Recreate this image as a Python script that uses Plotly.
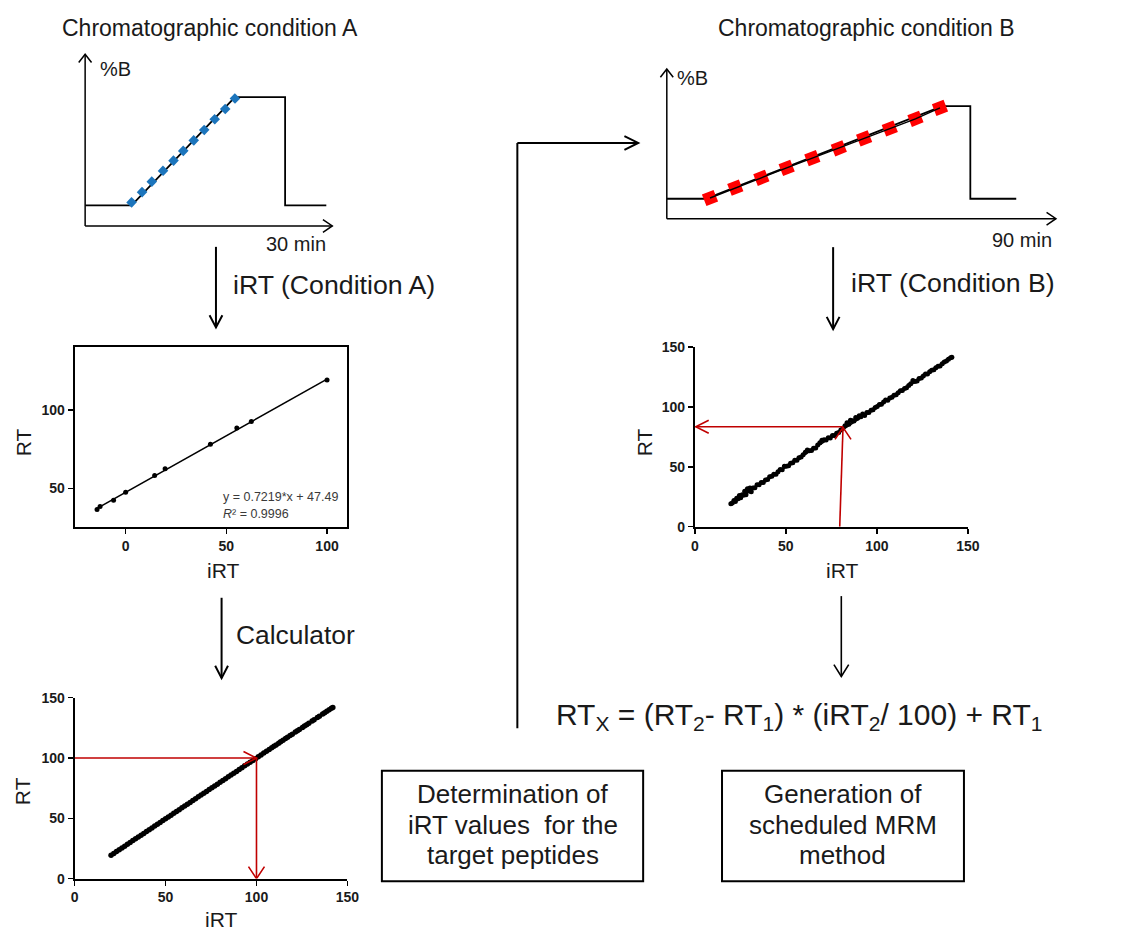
import plotly.graph_objects as go

W, H = 1133, 939
FONT = "Liberation Sans, Arial, sans-serif"

# ---- gradient programs (time in min, %B) ----
grad_a_time = [0, 6.2, 20.0, 26.7, 26.7, 32.2]
grad_a_pctb = [12.0, 12.0, 75.0, 75.0, 12.0, 12.0]
irt_a_time = [6.2, 7.6, 8.9, 10.4, 11.8, 13.1, 14.5, 15.9, 17.3, 18.7, 20.0]
irt_a_pctb = [13.7, 19.7, 25.8, 32.1, 38.0, 43.7, 49.8, 55.9, 62.1, 68.1, 74.2]

grad_b_time = [0, 10.0, 70.8, 78.0, 78.0, 89.8]
grad_b_pctb = [13.3, 13.3, 75.2, 75.2, 13.3, 13.3]
irt_b_time = [11.1, 17.6, 24.3, 30.8, 37.4, 44.2, 50.7, 57.3, 63.9, 70.2]
irt_b_pctb = [13.8, 20.7, 27.3, 33.9, 40.4, 47.0, 53.6, 60.2, 66.7, 74.0]

# ---- iRT calibration, condition A ----
cal_a_irt = [-14.2, -12.7, -6.0, 0.0, 14.4, 19.6, 42.1, 55.2, 62.4, 100.0]
cal_a_rt = [36.6, 38.5, 42.5, 47.5, 58.2, 62.5, 78.2, 88.5, 92.6, 119.2]
fit_a_slope = 0.7219
fit_a_intercept = 47.49
fit_a_r2 = 0.9996
fit_a_irt = [-14.2, 100.0]

# ---- iRT calibration, condition B ----
cal_b_irt = [19.8, 20.6, 21.5, 22.3, 23.0, 23.8, 24.5, 25.2, 26.0, 26.7,
             27.4, 28.1, 28.9, 29.6, 30.3, 31.0, 31.9, 33.0, 34.2, 35.3,
             36.5, 37.6, 38.8, 40.0, 41.1, 42.3, 43.4, 44.6, 45.7, 46.9,
             48.0, 49.2, 50.3, 51.5, 52.6, 53.8, 54.9, 56.1, 57.2, 58.4,
             59.5, 60.7, 61.8, 62.9, 64.1, 65.2, 66.4, 67.5, 68.7, 69.8,
             71.0, 72.1, 73.3, 74.4, 75.6, 76.7, 77.9, 79.0, 80.2, 81.3,
             82.5, 83.6, 84.6, 85.5, 86.5, 87.4, 88.4, 89.3, 90.3, 91.2,
             92.2, 93.3, 94.5, 95.6, 96.8, 97.9, 99.1, 100.2, 101.4, 102.5,
             103.7, 104.8, 106.0, 107.1, 108.3, 109.4, 110.6, 111.7, 112.9, 114.0,
             115.2, 116.3, 117.5, 118.6, 119.8, 120.9, 122.1, 123.2, 124.4, 125.5,
             126.7, 127.8, 129.0, 130.1, 131.3, 132.4, 133.6, 134.7, 135.9, 137.0,
             138.2, 139.3, 140.5, 141.2]
cal_b_rt = [19.2, 19.8, 21.9, 21.1, 23.8, 23.3, 26.0, 24.2, 26.6, 26.3,
            29.6, 26.6, 31.7, 29.9, 32.3, 29.2, 32.4, 32.6, 35.1, 35.0,
            36.9, 37.0, 39.0, 39.5, 41.8, 42.1, 43.9, 43.9, 46.0, 47.7,
            47.6, 50.4, 50.5, 50.9, 53.1, 53.5, 55.5, 55.6, 57.6, 58.2,
            60.0, 62.1, 64.1, 63.5, 63.7, 65.5, 65.8, 68.3, 70.2, 72.2,
            72.6, 72.5, 74.3, 74.1, 76.1, 76.1, 78.1, 78.6, 80.8, 82.2,
            84.3, 86.8, 85.6, 89.0, 88.6, 88.2, 91.3, 90.5, 92.7, 91.8,
            94.1, 92.9, 95.3, 95.4, 97.3, 97.6, 99.5, 100.3, 102.0, 102.2,
            104.1, 105.8, 105.7, 107.6, 108.1, 109.7, 110.2, 111.9, 113.5, 113.7,
            115.5, 116.1, 118.0, 119.4, 122.2, 121.3, 121.8, 123.8, 124.2, 125.9,
            127.5, 127.5, 129.4, 130.7, 131.1, 132.7, 134.1, 134.3, 136.1, 137.6,
            138.4, 139.8, 141.1, 141.5]
fit_b_irt = [19.5, 141.5]
fit_b_rt = [19.2, 141.3]
# predicted RT of a target peptide (vertical from iRT, horizontal to RT axis)
target_b_irt = [79.6, 81.4]
target_b_rt = 83.5

# ---- iRT calculator output ----
calc_irt = [20.0, 21.5, 23.0, 24.5, 26.0, 27.5, 29.0, 30.5, 32.0, 33.5,
            35.0, 36.5, 38.0, 39.5, 41.0, 42.5, 44.0, 45.5, 47.0, 48.5,
            50.0, 51.5, 53.0, 54.5, 56.0, 57.5, 59.0, 60.5, 62.0, 63.5,
            65.0, 66.5, 68.0, 69.5, 71.0, 72.5, 74.0, 75.5, 77.0, 78.5,
            80.0, 81.5, 83.0, 84.5, 86.0, 87.5, 89.0, 90.5, 92.0, 93.5,
            95.0, 96.5, 98.0, 99.5, 101.0, 102.5, 104.0, 105.5, 107.0, 108.4,
            109.6, 110.8, 112.2, 113.3, 114.6, 116.0, 117.1, 118.5, 119.7, 121.4,
            122.5, 123.6, 125.3, 126.4, 127.6, 128.8, 130.6, 131.7, 133.5, 134.6,
            136.4, 137.5, 138.7, 140.0, 141.2, 142.0]
calc_rt = [19.3, 20.8, 22.4, 23.9, 25.4, 26.9, 28.4, 29.9, 31.5, 33.0,
           34.5, 36.0, 37.5, 39.0, 40.5, 42.0, 43.6, 45.1, 46.6, 48.1,
           49.6, 51.1, 52.6, 54.1, 55.7, 57.2, 58.7, 60.2, 61.7, 63.2,
           64.7, 66.2, 67.8, 69.3, 70.8, 72.3, 73.8, 75.3, 76.8, 78.3,
           79.9, 81.4, 82.9, 84.4, 85.9, 87.4, 88.9, 90.4, 92.0, 93.5,
           95.0, 96.5, 98.0, 99.5, 101.0, 102.5, 104.1, 105.6, 107.1, 108.5,
           109.7, 110.9, 112.3, 113.4, 114.7, 116.1, 117.2, 118.6, 119.8, 121.5,
           122.6, 123.7, 125.4, 126.5, 127.7, 128.9, 130.7, 131.8, 133.6, 134.7,
           136.5, 137.6, 138.8, 140.1, 141.3, 141.9]
calc_query_rt = 100
calc_result_irt = 100

cal_a_ticks_x = [0, 50, 100]
cal_a_ticks_y = [50, 100]
wide_ticks = [0, 50, 100, 150]

box_a_lines = ["Determination of", "iRT values  for the", "target peptides"]
box_b_lines = ["Generation of", "scheduled MRM", "method"]

BLUE = "#1C75BC"
RED = "#FF0000"
DARKRED = "#C00000"

# page-pixel frames of the two gradient sketches: (left, bottom, right, top)
GRAD_A_BOX = (82.3, 221.7, 333.0, 47.0)
GRAD_B_BOX = (672.3, 214.3, 1067.0, 62.0)


def fx(p):
    return p / W


def fy(p):
    return 1 - p / H


fig = go.Figure()

# gradient A
fig.add_trace(go.Scatter(x=grad_a_time, y=grad_a_pctb, mode="lines",
                         line=dict(color="black", width=1.8), xaxis="x", yaxis="y"))
fig.add_trace(go.Scatter(x=irt_a_time, y=irt_a_pctb, mode="markers",
                         marker=dict(symbol="square", size=7.5, angle=-46, color=BLUE),
                         xaxis="x", yaxis="y"))
# gradient B
fig.add_trace(go.Scatter(x=grad_b_time, y=grad_b_pctb, mode="lines",
                         line=dict(color="black", width=1.8), xaxis="x2", yaxis="y2"))
fig.add_trace(go.Scatter(x=irt_b_time, y=irt_b_pctb, mode="markers",
                         marker=dict(symbol="square", size=12.5, angle=-21.4, color=RED),
                         xaxis="x2", yaxis="y2"))
fig.add_trace(go.Scatter(x=irt_b_time, y=irt_b_pctb, mode="lines",
                         line=dict(color="black", width=1.4), xaxis="x2", yaxis="y2"))
# calibration A
fit_a_rt = [fit_a_slope * v + fit_a_intercept for v in fit_a_irt]
fig.add_trace(go.Scatter(x=fit_a_irt, y=fit_a_rt, mode="lines",
                         line=dict(color="black", width=1.6), xaxis="x3", yaxis="y3"))
fig.add_trace(go.Scatter(x=cal_a_irt, y=cal_a_rt, mode="markers",
                         marker=dict(size=5, color="black"), xaxis="x3", yaxis="y3"))
# calibration B
fig.add_trace(go.Scatter(x=fit_b_irt, y=fit_b_rt, mode="lines",
                         line=dict(color="black", width=1.6), xaxis="x4", yaxis="y4"))
fig.add_trace(go.Scatter(x=cal_b_irt, y=cal_b_rt, mode="markers",
                         marker=dict(size=5, color="black"), xaxis="x4", yaxis="y4"))
# calculator
fig.add_trace(go.Scatter(x=calc_irt, y=calc_rt, mode="markers",
                         marker=dict(size=5.5, color="black"), xaxis="x5", yaxis="y5"))

tickfont = dict(family=FONT, size=14, color="#1a1a1a", weight="bold")
hidden = dict(visible=False, showticklabels=False, ticks="", fixedrange=True)
framed = dict(showline=True, linecolor="black", linewidth=2, ticks="outside",
              ticklen=5, tickwidth=1.5, tickcolor="black", showgrid=False,
              zeroline=False, tickfont=tickfont, fixedrange=True)

fig.update_layout(
    width=W, height=H, margin=dict(l=0, r=0, t=0, b=0),
    paper_bgcolor="white", plot_bgcolor="white", showlegend=False,
    font=dict(family=FONT, color="#1a1a1a"),
    xaxis=dict(domain=[fx(GRAD_A_BOX[0]), fx(GRAD_A_BOX[2])], range=[0, 33],
               anchor="y", **hidden),
    yaxis=dict(domain=[fy(GRAD_A_BOX[1]), fy(GRAD_A_BOX[3])], range=[0, 100],
               anchor="x", **hidden),
    xaxis2=dict(domain=[fx(GRAD_B_BOX[0]), fx(GRAD_B_BOX[2])], range=[0, 100],
                anchor="y2", **hidden),
    yaxis2=dict(domain=[fy(GRAD_B_BOX[1]), fy(GRAD_B_BOX[3])], range=[0, 100],
                anchor="x2", **hidden),
    xaxis3=dict(domain=[fx(71.7), fx(348.3)], range=[-25.3, 110.1], anchor="y3",
                tickvals=cal_a_ticks_x, mirror=True, **framed),
    yaxis3=dict(domain=[fy(528.3), fy(345)], range=[25.2, 140.1], anchor="x3",
                tickvals=cal_a_ticks_y, mirror=True, **framed),
    xaxis4=dict(domain=[fx(700.7), fx(977.7)], range=[0, 150], anchor="y4",
                tickvals=wide_ticks, **framed),
    yaxis4=dict(domain=[fy(527.7), fy(345)], range=[0, 150], anchor="x4",
                tickvals=wide_ticks, **framed),
    xaxis5=dict(domain=[fx(71.7), fx(348.3)], range=[0, 150], anchor="y5",
                tickvals=wide_ticks, **framed),
    yaxis5=dict(domain=[fy(885.7), fy(701.7)], range=[0, 150], anchor="x5",
                tickvals=wide_ticks, **framed),
)

ann = []
shapes = []


def label(text, x, y, size, xanchor="center", angle=0, color="#1a1a1a"):
    ann.append(dict(text=text, x=fx(x), y=fy(y), xref="paper", yref="paper",
                    showarrow=False, xanchor=xanchor, yanchor="middle",
                    textangle=angle, borderpad=0,
                    font=dict(family=FONT, size=size, color=color)))


def flow_arrow(x0, y0, x1, y1, width=2.0, length=12.5, half=6.5, color="black"):
    """Straight arrow in page pixels from (x0, y0) to the tip (x1, y1)."""
    dx, dy = x1 - x0, y1 - y0
    n = (dx * dx + dy * dy) ** 0.5
    ux, uy = dx / n, dy / n
    bx, by = x1 - ux * length, y1 - uy * length
    ax_, ay_ = bx - uy * half, by + ux * half
    cx_, cy_ = bx + uy * half, by - ux * half
    line = dict(color=color, width=width)
    shapes.append(dict(type="line", xref="paper", yref="paper", x0=fx(x0), y0=fy(y0),
                       x1=fx(x1), y1=fy(y1), line=line))
    shapes.append(dict(type="path", xref="paper", yref="paper", line=line,
                       path="M%.5f,%.5f L%.5f,%.5f L%.5f,%.5f" % (
                           fx(ax_), fy(ay_), fx(x1), fy(y1), fx(cx_), fy(cy_))))


HEADS = {  # open chevrons in pixel offsets from the tip (y up)
    "up": "M{-h},{-l} L0,0 L{h},{-l}",
    "down": "M{-h},{l} L0,0 L{h},{l}",
    "left": "M{l},{h} L0,0 L{l},{-h}",
    "right": "M{-l},{h} L0,0 L{-l},{-h}",
}


def data_arrow(ax_id, tail, tip, direction, width=1.6, length=13, half=6.5, color=DARKRED):
    """Arrow drawn in data units of one subplot, head sized in pixels."""
    line = dict(color=color, width=width)
    xr, yr = "x" + ax_id, "y" + ax_id
    shapes.append(dict(type="line", xref=xr, yref=yr, x0=tail[0], y0=tail[1],
                       x1=tip[0], y1=tip[1], line=line))
    path = HEADS[direction].replace("{l}", str(length)).replace("{-l}", str(-length)) \
        .replace("{h}", str(half)).replace("{-h}", str(-half))
    shapes.append(dict(type="path", xref=xr, yref=yr, xsizemode="pixel",
                       ysizemode="pixel", xanchor=tip[0], yanchor=tip[1],
                       path=path, line=line))


# gradient sketch axes (time and %B) with open arrow heads
for left, bottom, right, top in (GRAD_A_BOX, GRAD_B_BOX):
    flow_arrow(left, bottom, left, top, width=1.5, length=8.5, half=6.5)
    flow_arrow(left, bottom, right, bottom, width=1.5, length=9.5, half=6.5)

# titles and labels
label("Chromatographic condition A", 208.5, 20, 23)
label("Chromatographic condition B", 875.3, 20, 23)
label("%B", 112.8, 62, 20)
label("%B", 698.7, 71, 20)
label("30 min", 296, 240, 20)
label("90 min", 1033, 236, 20)
label("iRT (Condition A)", 335, 282, 26.7)
label("iRT (Condition B)", 962.5, 280, 26.7)
label("Calculator", 295.5, 638, 26.4)

# axis titles
label("RT", 20, 442, 21, angle=-90)
label("iRT", 222, 572, 21)
label("RT", 650, 442, 21, angle=-90)
label("iRT", 850, 572, 21)
label("RT", 19, 797, 21, angle=-90)
label("iRT", 220, 927, 21)

# regression text
label("y = %.4f*x + %.2f" % (fit_a_slope, fit_a_intercept), 221.5, 497, 12.5,
      xanchor="left", color="#3a3a3a")
label("<i>R</i>\u00b2 = %.4f" % fit_a_r2, 221.5, 515, 12.5,
      xanchor="left", color="#3a3a3a")

# formula
label("RT<sub>X</sub> = (RT<sub>2</sub>- RT<sub>1</sub>) * (iRT<sub>2</sub>/ 100) + RT<sub>1</sub>",
      806.5, 721, 30)

# box texts
for i, (la, lb) in enumerate(zip(box_a_lines, box_b_lines)):
    label(la, 515.8, 800 + 31 * i, 26)
    label(lb, 851, 800 + 31 * i, 26)

# flow arrows
flow_arrow(215, 243, 215, 325)
flow_arrow(220.7, 600, 220.7, 681.7)
flow_arrow(841, 243.3, 841, 326.7)
flow_arrow(849.3, 598.3, 849.3, 680, width=1.6, length=12, half=7.5)
flow_arrow(520.7, 137.3, 643.3, 137.3, length=14, half=7)

# red read-out arrows
data_arrow("5", (0, calc_query_rt), (calc_result_irt, calc_query_rt), "right")
data_arrow("5", (calc_result_irt, calc_query_rt), (calc_result_irt, 0), "down",
           length=12, half=8)
data_arrow("4", (target_b_irt[0], 0), (target_b_irt[1], target_b_rt - 0.5), "up",
           length=12, half=8)
data_arrow("4", (target_b_irt[1], target_b_rt), (0.5, target_b_rt), "left")

shapes += [
    dict(type="line", xref="paper", yref="paper", x0=fx(520.7), x1=fx(520.7),
         y0=fy(732.7), y1=fy(137.3), line=dict(color="black", width=2)),
    dict(type="rect", xref="paper", yref="paper", x0=fx(383.3), x1=fx(648.3),
         y0=fy(888.3), y1=fy(776), line=dict(color="black", width=2)),
    dict(type="rect", xref="paper", yref="paper", x0=fx(728.3), x1=fx(973.7),
         y0=fy(888.3), y1=fy(776), line=dict(color="black", width=2)),
]

fig.update_layout(annotations=ann, shapes=shapes)

fig.write_html("out.html", config={"displayModeBar": False, "staticPlot": True})
